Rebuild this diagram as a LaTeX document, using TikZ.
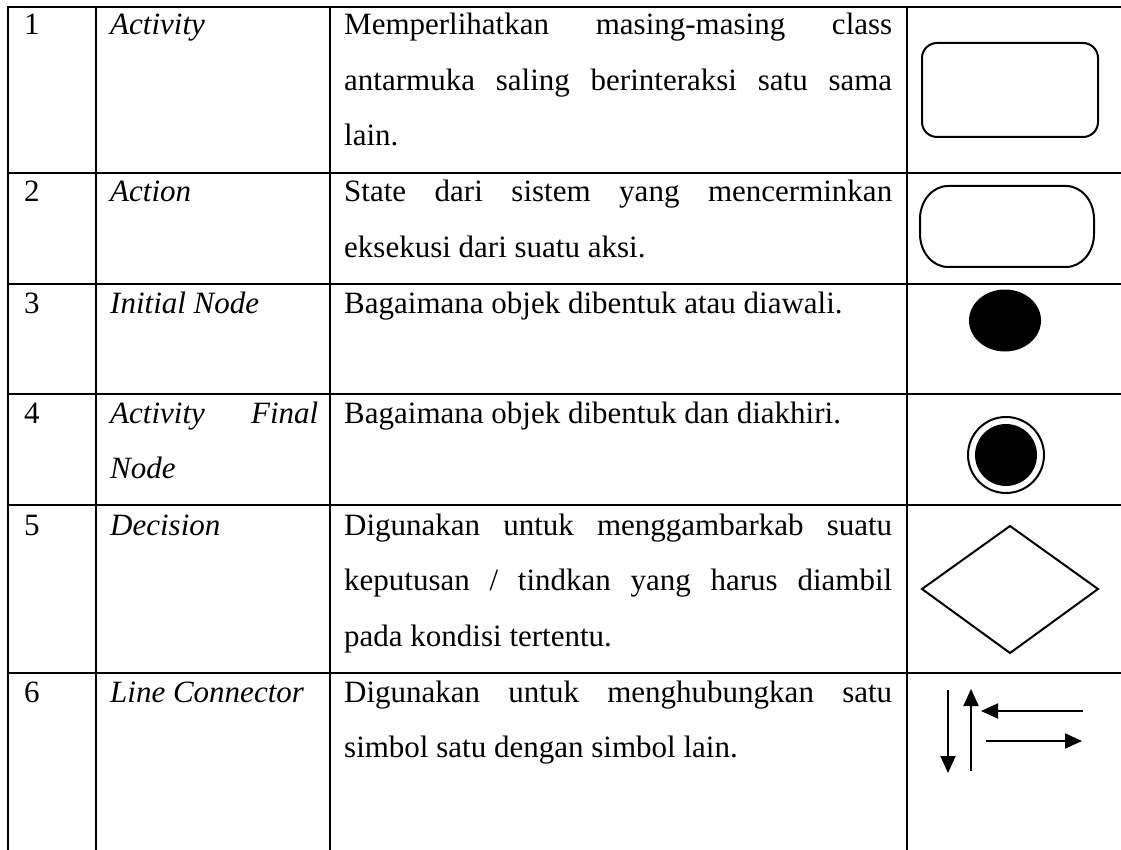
\documentclass[tikz,border=0pt]{standalone}
\usepackage{fontspec}
\setmainfont{Liberation Serif}
\usetikzlibrary{arrows.meta}
\begin{document}
\begin{tikzpicture}[x=1pt,y=-1pt,
  rule/.style={line width=2.2pt,line cap=rect},
  cell/.style={anchor=base west,inner sep=0pt,font=\fontsize{31}{55.5}\selectfont},
  namecell/.style={cell,font=\fontsize{31}{55.5}\selectfont\itshape},
  desc/.style={cell,text width=548pt,align=justify},
  sym/.style={line width=2pt},
  conn/.style={line width=2pt,-{Triangle[length=17pt,width=15pt]}}]
\useasboundingbox (0,0) rectangle (1121,850);

% table rules
\foreach \y in {7,173,284,394,505,673}
  \draw[rule] (8,\y) -- (1121,\y);
\foreach \x in {8,96,330,907}
  \draw[rule] (\x,7) -- (\x,852);

% row 1
\node[cell] (n1) at (24,35) {1};
\node[namecell] (t1) at (110,35) {Activity};
\node[desc] (d1) at (344,35) {Memperlihatkan masing-masing class\linebreak antarmuka saling berinteraksi satu sama\linebreak lain.};
\draw[sym,rounded corners=15pt] (922,43) rectangle (1098,137);

% row 2
\node[cell] (n2) at (24,202) {2};
\node[namecell] (t2) at (110,202) {Action};
\node[desc] (d2) at (344,202) {State dari sistem yang mencerminkan\linebreak eksekusi dari suatu aksi.};
\draw[sym] (948,186) -- (1066,186)
  arc[start angle=90,end angle=0,x radius=28,y radius=-33] -- (1094,234)
  arc[start angle=0,end angle=-90,x radius=28,y radius=-33] -- (948,267)
  arc[start angle=-90,end angle=-180,x radius=28,y radius=-33] -- (920,219)
  arc[start angle=180,end angle=90,x radius=28,y radius=-33] -- cycle;

% row 3
\node[cell] (n3) at (24,313) {3};
\node[namecell] (t3) at (110,313) {Initial Node};
\node[desc] (d3) at (344,313) {Bagaimana objek dibentuk atau diawali.};
\fill (1005,320.5) ellipse[x radius=36,y radius=31];

% row 4
\node[cell] (n4) at (24,423) {4};
\node[namecell,text width=208pt,align=justify] (t4) at (110,423) {Activity Final\linebreak Node};
\node[desc] (d4) at (344,423) {Bagaimana objek dibentuk dan diakhiri.};
\draw[sym] (1006,455) circle[radius=38];
\fill (1006,455) circle[radius=31];

% row 5
\node[cell] (n5) at (24,535) {5};
\node[namecell] (t5) at (110,535) {Decision};
\node[desc] (d5) at (344,535) {Digunakan untuk menggambarkab suatu\linebreak keputusan / tindkan yang harus diambil\linebreak pada kondisi tertentu.};
\draw[sym,line join=miter] (922,589) -- (1010,526) -- (1098,589) -- (1010,653) -- cycle;

% row 6
\node[cell] (n6) at (24,702) {6};
\node[namecell] (t6) at (110,702) {Line Connector};
\node[desc] (d6) at (344,702) {Digunakan untuk menghubungkan satu\linebreak simbol satu dengan simbol lain.};
\coordinate (dA) at (948,690);  \coordinate (dB) at (948,773);
\coordinate (uA) at (971,771);  \coordinate (uB) at (971,689);
\coordinate (lA) at (1083,711); \coordinate (lB) at (981,711);
\coordinate (rA) at (986,741);  \coordinate (rB) at (1082,741);
\draw[conn] (dA) -- (dB);
\draw[conn] (uA) -- (uB);
\draw[conn] (lA) -- (lB);
\draw[conn] (rA) -- (rB);
\end{tikzpicture}
\end{document}
